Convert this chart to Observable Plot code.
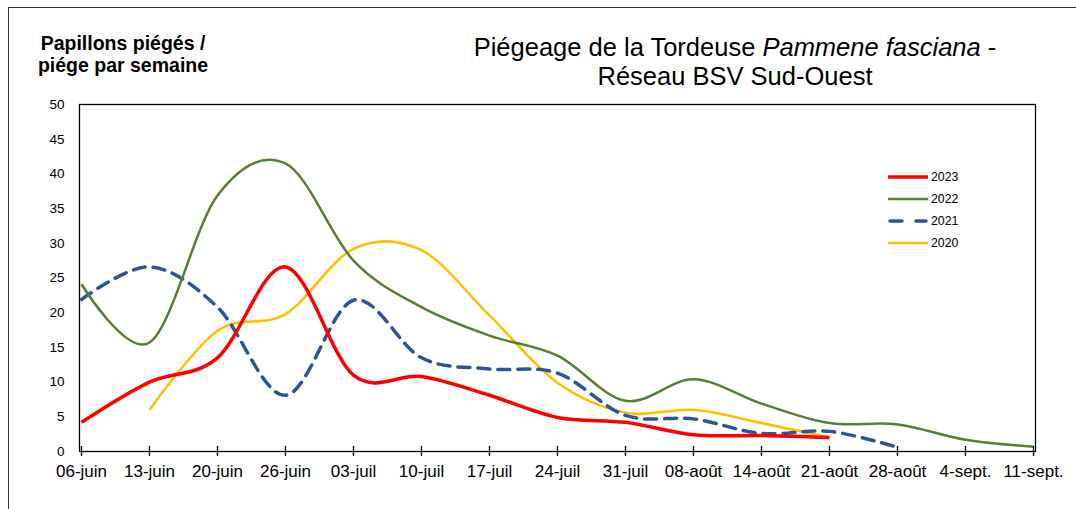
<!DOCTYPE html>
<html>
<head>
<meta charset="utf-8">
<script src="https://cdn.jsdelivr.net/npm/d3@7"></script>
<script src="https://cdn.jsdelivr.net/npm/@observablehq/plot@0.6"></script>
<style>
  html, body { margin: 0; padding: 0; background: #fff; overflow: hidden; }
  #wrap { position: relative; width: 1076px; height: 509px; font-family: "Liberation Sans", Arial, sans-serif; }
  #frame { position: absolute; left: 8px; top: 7px; width: 1200px; height: 600px; border: 1.5px solid #333; pointer-events: none; }
  #ylab { position: absolute; left: 13px; top: 32px; width: 220px; text-align: center; font-weight: bold; font-size: 19.5px; line-height: 22px; color: #000; }
  #title { position: absolute; left: 385px; top: 33px; width: 700px; text-align: center; font-size: 25.5px; line-height: 29px; color: #000; }
  #chart { position: absolute; left: 0; top: 90px; }
  #legend { position: absolute; left: 888px; top: 166px; font-size: 12.3px; line-height: 22px; color: #000; }
  #legend div { display: flex; align-items: center; height: 22px; }
  #legend svg { margin-right: 3px; }
</style>
</head>
<body>
<div id="wrap">
  <div id="frame"></div>
  <div id="ylab">Papillons piégés /<br>piége par semaine</div>
  <div id="title">Piégeage de la Tordeuse <i>Pammene fasciana</i> -<br>Réseau BSV Sud-Ouest</div>
  <div id="chart"></div>
  <div id="legend"></div>
</div>
<script>
const weeks = ["06-juin","13-juin","20-juin","26-juin","03-juil","10-juil","17-juil","24-juil","31-juil","08-août","14-août","21-août","28-août","4-sept.","11-sept."];
const yTicks = [0,5,10,15,20,25,30,35,40,45,50];

const s2023 = [4.2, 10.0, 13.5, 26.6, 11.0, 10.8, 8.1, 4.9, 4.2, 2.4, 2.3, 2.0, null, null, null];
const s2022 = [24.1, 15.7, 36.9, 41.5, 27.5, 20.8, 16.7, 13.8, 7.3, 10.4, 6.9, 4.1, 3.9, 1.7, 0.7];
const s2021 = [21.9, 26.6, 20.8, 8.1, 21.8, 13.5, 11.9, 11.3, 5.2, 4.7, 2.6, 2.9, 0.6, null, null];
const s2020 = [null, 6.0, 17.4, 19.8, 29.2, 29.0, 19.6, 9.9, 5.6, 6.0, 4.1, 2.0, null, null, null];

const series = [
  {name: "2023", values: s2023, color: "#FF0000", width: 3.5, dash: null},
  {name: "2022", values: s2022, color: "#548235", width: 2.5, dash: null},
  {name: "2021", values: s2021, color: "#2F5597", width: 3.5, dash: "12,8"},
  {name: "2020", values: s2020, color: "#FFC000", width: 2.5, dash: null}
];

const drawOrder = ["2020", "2021", "2022", "2023"];
const lineMarks = drawOrder.map(n => {
  const s = series.find(d => d.name === n);
  const data = weeks.map((w, i) => ({week: w, value: s.values[i]})).filter(d => d.value != null);
  return Plot.line(data, {
    x: "week", y: "value", stroke: s.color, strokeWidth: s.width,
    strokeDasharray: s.dash, curve: "cardinal", strokeLinecap: s.dash ? "round" : "butt"
  });
});

const chart = Plot.plot({
  width: 1076,
  height: 419,
  marginTop: 14,
  marginBottom: 58,
  marginLeft: 79,
  marginRight: 41,
  style: {fontFamily: "Liberation Sans, Arial, sans-serif", background: "transparent"},
  x: {type: "point", domain: weeks, padding: 0},
  y: {domain: [0, 50]},
  marks: [
    Plot.frame({stroke: "#000", strokeWidth: 1.3}),
    ...lineMarks,
    Plot.ruleX(weeks, {x: d => d, y1: 0, y2: 0, insetTop: -5, insetBottom: -5, stroke: "#000", strokeWidth: 1.3}),
    Plot.ruleY(yTicks, {y: d => d, x1: weeks[0], x2: weeks[0], insetLeft: -5, insetRight: -5, stroke: "#000", strokeWidth: 1.3}),
    Plot.axisX({ticks: weeks, tickSize: 0, tickPadding: 13, fontSize: 17, label: null, fill: "#000"}),
    Plot.axisY({ticks: yTicks, tickSize: 0, tickPadding: 15, fontSize: 13.5, label: null, fill: "#000"})
  ]
});
document.getElementById("chart").appendChild(chart);

const legend = document.getElementById("legend");
series.forEach(s => {
  const row = document.createElement("div");
  const dash = s.dash ? 'stroke-dasharray="12,14" stroke-linecap="round"' : '';
  row.innerHTML = `<svg width="40" height="8"><line x1="${s.dash ? 2 : 0}" y1="4" x2="${s.dash ? 38 : 40}" y2="4" stroke="${s.color}" stroke-width="${s.width}" ${dash}/></svg><span>${s.name}</span>`;
  legend.appendChild(row);
});
</script>
</body>
</html>
